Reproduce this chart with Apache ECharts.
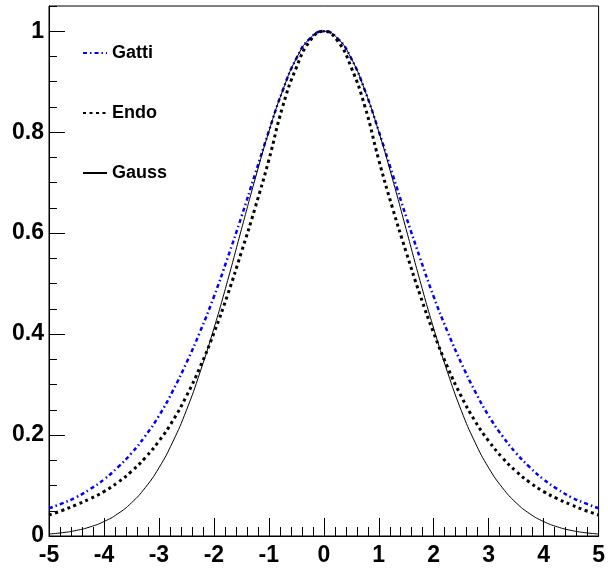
<!DOCTYPE html>
<html>
<head>
<meta charset="utf-8">
<script src="https://cdn.jsdelivr.net/npm/echarts@6/dist/echarts.min.js"></script>
<style>
html,body{margin:0;padding:0;background:#fff;}
#c{width:608px;height:568px;}
</style>
</head>
<body>
<div id="c"></div>
<script>
var xValues = [-5,-4.75,-4.5,-4.25,-4,-3.75,-3.5,-3.25,-3,-2.75,-2.5,-2.25,-2,-1.75,-1.5,-1.25,-1,-0.75,-0.5,-0.25,0,
  0.25,0.5,0.75,1,1.25,1.5,1.75,2,2.25,2.5,2.75,3,3.25,3.5,3.75,4,4.25,4.5,4.75,5];
var gatti = [0.055,0.065,0.077,0.093,0.112,0.136,0.164,0.198,0.238,0.287,0.343,0.405,0.474,0.551,0.632,0.717,0.802,0.882,0.946,0.986,1,
  0.986,0.946,0.882,0.802,0.717,0.632,0.551,0.474,0.405,0.343,0.287,0.238,0.198,0.164,0.136,0.112,0.093,0.077,0.065,0.055];
var endo = [0.0416,0.051,0.062,0.074,0.088,0.106,0.128,0.155,0.188,0.228,0.277,0.335,0.402,0.478,0.562,0.650,0.745,0.850,0.928,0.981,1,
  0.981,0.928,0.850,0.745,0.650,0.562,0.478,0.402,0.335,0.277,0.228,0.188,0.155,0.128,0.106,0.088,0.074,0.062,0.051,0.0416];
var gauss = [0.004,0.0066,0.0111,0.0181,0.0286,0.0439,0.0657,0.0956,0.135,0.186,0.249,0.325,0.411,0.506,0.607,0.707,0.801,0.882,0.946,0.986,1,
  0.986,0.946,0.882,0.801,0.707,0.607,0.506,0.411,0.325,0.249,0.186,0.135,0.0956,0.0657,0.0439,0.0286,0.0181,0.0111,0.0066,0.004];
var seriesNames = ['Gatti','Endo','Gauss'];

function pairs(ys){ return xValues.map(function(x,i){ return [x, ys[i]]; }); }

var FONT = 'Liberation Sans, Arial, Helvetica, sans-serif';
var chart = echarts.init(document.getElementById('c'), null, {renderer:'canvas'});
chart.setOption({
  animation:false,
  backgroundColor:'#ffffff',
  grid:{left:49, top:6, right:8, bottom:32, show:true, borderColor:'#000', borderWidth:1, backgroundColor:'transparent'},
  legend:{
    orient:'vertical', left:82, top:44, padding:0, itemWidth:24, itemHeight:14, itemGap:42,
    data:seriesNames,
    itemStyle:{opacity:0},
    textStyle:{fontFamily:FONT, fontWeight:'bold', fontSize:18, color:'#000'}
  },
  xAxis:{
    type:'value', min:-5, max:5, interval:1,
    axisLine:{onZero:false, lineStyle:{color:'#000', width:1}},
    axisTick:{inside:true, length:18, lineStyle:{color:'#000'}},
    minorTick:{show:true, splitNumber:5, length:9, lineStyle:{color:'#000'}},
    splitLine:{show:false},
    axisLabel:{fontFamily:FONT, fontWeight:'bold', fontSize:23, color:'#000', margin:8}
  },
  yAxis:[{
    type:'value', min:0, max:1.05, interval:0.2,
    axisLine:{onZero:false, lineStyle:{color:'#000', width:1}},
    axisTick:{inside:true, length:16, lineStyle:{color:'#000'}},
    splitLine:{show:false},
    axisLabel:{fontFamily:FONT, fontWeight:'bold', fontSize:23, color:'#000', margin:5, showMaxLabel:false,
      formatter:function(v){ return String(Math.round(v*10)/10); }}
  },{
    type:'value', min:0, max:1.05, interval:0.05, position:'left',
    axisLine:{show:false, onZero:false},
    axisTick:{inside:true, length:8, lineStyle:{color:'#000'}},
    splitLine:{show:false},
    axisLabel:{show:false}
  }],
  series:[
    {name:'Gatti', type:'line', data:pairs(gatti), showSymbol:false, symbol:'none', smooth:true,
     lineStyle:{color:'#0000ff', width:2.5, type:[4,3,1.5,3]}, itemStyle:{color:'#0000ff'}},
    {name:'Endo', type:'line', data:pairs(endo), showSymbol:false, symbol:'none', smooth:true,
     lineStyle:{color:'#000', width:3, type:[3,3.5]}, itemStyle:{color:'#000'}},
    {name:'Gauss', type:'line', data:pairs(gauss), showSymbol:false, symbol:'none', smooth:true,
     lineStyle:{color:'#000', width:1, type:'solid'}, itemStyle:{color:'#000'}}
  ]
});
</script>
</body>
</html>
